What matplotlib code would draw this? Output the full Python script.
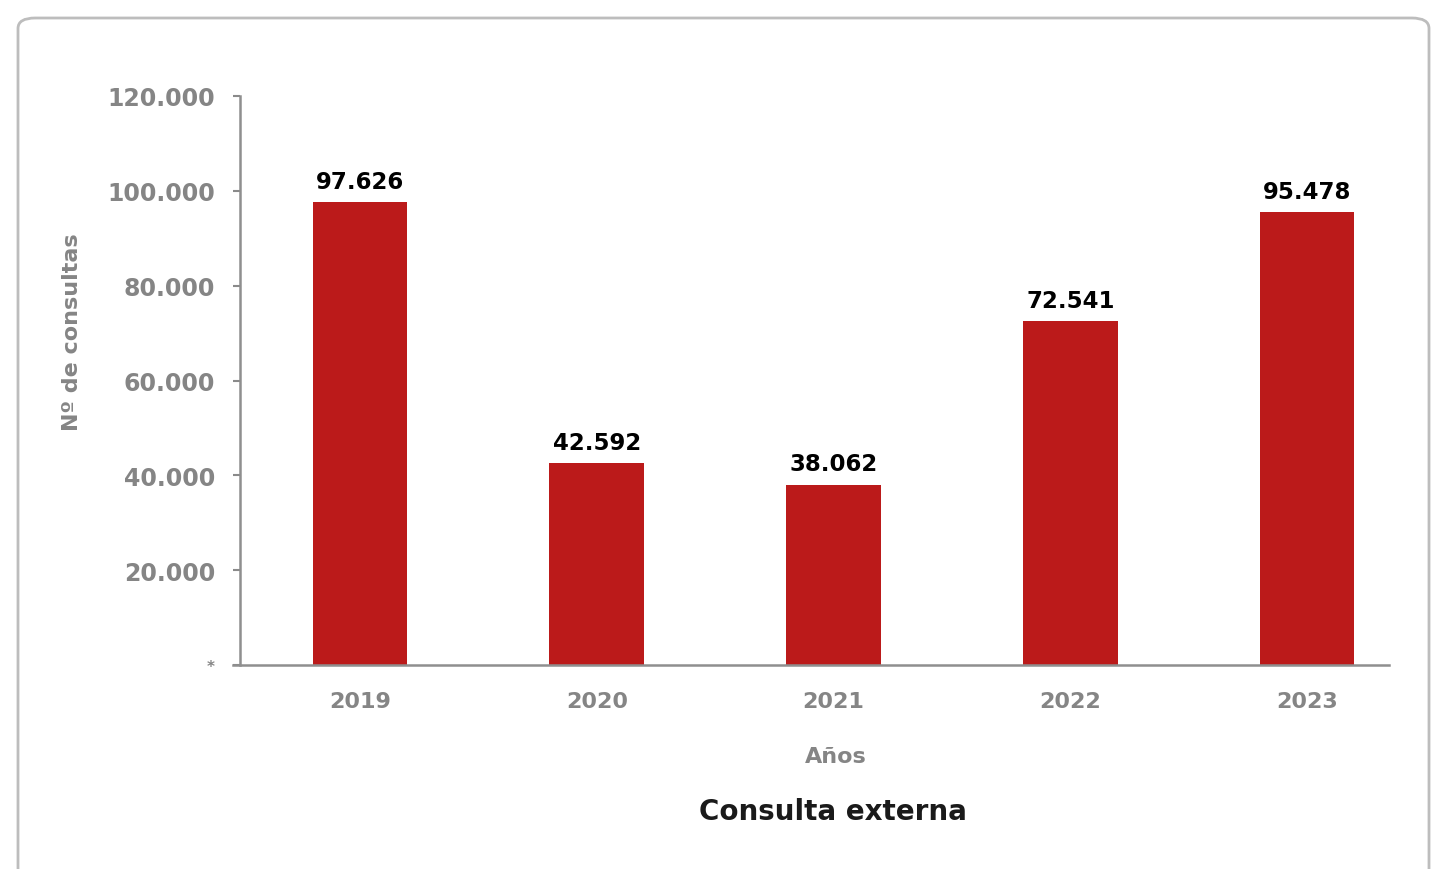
import matplotlib
matplotlib.use('Agg')
import matplotlib.pyplot as plt
from matplotlib.patches import FancyBboxPatch

# Data
years = ['2019', '2020', '2021', '2022', '2023']
consultas = [97626, 42592, 38062, 72541, 95478]
y_ticks = [0, 20000, 40000, 60000, 80000, 100000, 120000]


def fmt_es(v):
    # Spanish thousands separator, zero shown as "*"
    if v == 0:
        return '*'
    return f'{v:,}'.replace(',', '.')


plt.rcParams['font.family'] = ['DejaVu Sans']
plt.rcParams['font.weight'] = 'bold'

gray = '#858585'
bar_color = '#BB1A1A'

fig = plt.figure(figsize=(14.35, 8.7), dpi=100)

# Rounded frame around the chart
frame = FancyBboxPatch((18 / 1435, -0.05), (1429 - 18) / 1435, (870 - 19) / 870 + 0.05,
                       boxstyle='round,pad=0,rounding_size=0.012',
                       transform=fig.transFigure, facecolor='none',
                       edgecolor='#bdbdbd', linewidth=2, zorder=-1)
fig.patches.append(frame)

ax = fig.add_axes([240 / 1435, (870 - 666) / 870, (1389 - 240) / 1435, (666 - 97) / 870])
ax.set_facecolor('none')

x = list(range(len(years)))
ax.bar(x, consultas, width=0.40, color=bar_color, zorder=2)

for xi, v in zip(x, consultas):
    ax.text(xi, v + 2000, fmt_es(v), ha='center', va='bottom',
            fontsize=16.5, fontweight='bold', color='black')

ax.set_xlim(-0.507, 4.346)
ax.set_ylim(0, 120000)
ax.set_yticks(y_ticks)
ax.set_yticklabels([fmt_es(v) for v in y_ticks])
ax.set_xticks(x)
ax.set_xticklabels(years)

ax.tick_params(axis='y', colors='#8a8a8a', labelcolor=gray, labelsize=17,
               length=5, width=1.5, pad=13)
ax.tick_params(axis='x', length=0, labelcolor=gray, labelsize=16, pad=19)
# small asterisk at zero
ax.get_yticklabels()[0].set_fontsize(11)

for s in ['top', 'right']:
    ax.spines[s].set_visible(False)
for s in ['left', 'bottom']:
    ax.spines[s].set_color('#8f8f8f')
    ax.spines[s].set_linewidth(1.8)
ax.spines['bottom'].set_bounds(-0.537, 4.346)

ax.set_ylabel('Nº de consultas', color=gray, fontsize=16, fontweight='bold')
ax.yaxis.set_label_coords(-158 / 1149, 0.587)

fig.text(836 / 1435, 1 - 757 / 870, 'Años', ha='center', va='center',
         color=gray, fontsize=16, fontweight='bold')
fig.text(833 / 1435, 1 - 812 / 870, 'Consulta externa', ha='center', va='center',
         color='#1a1a1a', fontsize=20, fontweight='bold')

fig.savefig('out.png', dpi=100, facecolor='white')
